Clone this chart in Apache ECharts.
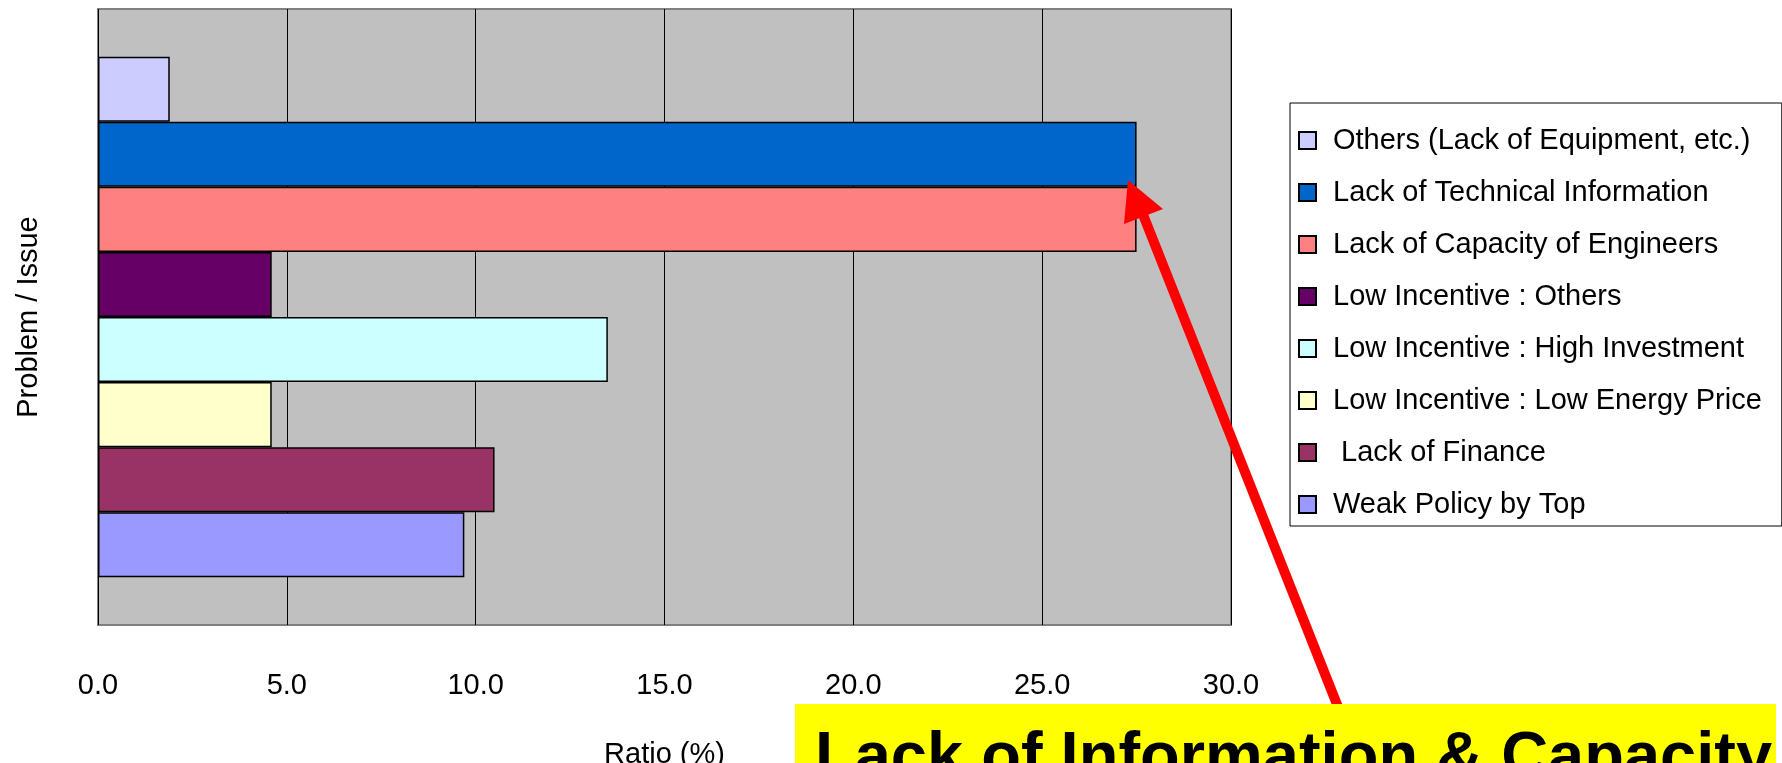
<!DOCTYPE html>
<html>
<head>
<meta charset="utf-8">
<script src="https://cdn.jsdelivr.net/npm/echarts@6/dist/echarts.min.js"></script>
<style>
html, body { margin: 0; padding: 0; background: #fff; }
#chart { width: 1782px; height: 763px; }
</style>
</head>
<body>
<div id="chart"></div>
<script>
// problems / issues, listed top to bottom as in the legend
var issueNames = [
	'Others (Lack of Equipment, etc.)',
	'Lack of Technical Information',
	'Lack of Capacity of Engineers',
	'Low Incentive : Others',
	'Low Incentive : High Investment',
	'Low Incentive : Low Energy Price',
	' Lack of Finance',
	'Weak Policy by Top'
];
// ratio (%)
var issueRatios = [1.9, 27.5, 27.5, 4.6, 13.5, 4.6, 10.5, 9.7];
var issueColors = ['#CCCCFF', '#0066CC', '#FF8080', '#660066', '#CCFFFF', '#FFFFCC', '#993366', '#9999FF'];
var categories = ['Issue'];
var FONT = 'Liberation Sans, Arial, sans-serif';

var chart = echarts.init(document.getElementById('chart'));

var series = issueNames.map(function(name, i) {
	return {
		name: name,
		type: 'bar',
		data: [issueRatios[i]],
		barGap: '0%',
		barCategoryGap: '15.5%',
		itemStyle: {
			color: issueColors[i],
			borderColor: '#000',
			borderWidth: 1.5
		},
		emphasis: { disabled: true }
	};
});

chart.setOption({
	animation: false,
	backgroundColor: '#fff',
	grid: {
		left: 98,
		top: 9,
		right: 551,
		bottom: 138,
		containLabel: false,
		outerBoundsMode: 'none',
		show: true,
		backgroundColor: '#C0C0C0',
		borderColor: '#808080',
		borderWidth: 2
	},
	legend: {
		orient: 'vertical',
		left: 1290,
		top: 103,
		data: issueNames,
		icon: 'rect',
		itemWidth: 17,
		itemHeight: 17,
		itemGap: 23,
		padding: [23, 20, 7, 8],
		backgroundColor: '#fff',
		borderColor: '#000',
		borderWidth: 1,
		borderRadius: 0,
		selectedMode: false,
		textStyle: {
			fontFamily: FONT,
			fontSize: 29,
			color: '#000',
			lineHeight: 28,
			padding: [0, 0, 0, 12]
		}
	},
	xAxis: {
		type: 'value',
		min: 0,
		max: 30,
		interval: 5,
		name: 'Ratio (%)',
		nameLocation: 'middle',
		nameGap: 115,
		nameTextStyle: { fontFamily: FONT, fontSize: 29, color: '#000' },
		axisLine: { show: false },
		axisTick: { show: false },
		axisLabel: {
			margin: 46,
			fontFamily: FONT,
			fontSize: 29,
			color: '#000',
			formatter: function(v) { return v.toFixed(1); }
		},
		splitLine: { show: true, lineStyle: { color: '#000', width: 1 } }
	},
	yAxis: {
		type: 'category',
		data: categories,
		name: 'Problem / Issue',
		nameLocation: 'middle',
		nameRotate: 90,
		nameGap: 55,
		nameTextStyle: { fontFamily: FONT, fontSize: 29, color: '#000' },
		axisLine: { show: false },
		axisTick: { show: false },
		axisLabel: { show: false },
		splitLine: { show: false }
	},
	series: series,
	graphic: [
		{
			type: 'line',
			z: 100,
			shape: { x1: 1340, y1: 712, x2: 1142, y2: 212 },
			style: { stroke: '#FF0000', lineWidth: 10 }
		},
		{
			type: 'polygon',
			z: 100,
			shape: { points: [[1128, 180], [1124, 224], [1163, 209]] },
			style: { fill: '#FF0000' }
		},
		{
			type: 'rect',
			z: 101,
			shape: { x: 795, y: 704, width: 981, height: 70 },
			style: { fill: '#FFFF00' }
		},
		{
			type: 'text',
			z: 102,
			x: 815,
			y: 727,
			style: {
				text: 'Lack of Information & Capacity',
				fontFamily: FONT,
				fontWeight: 'bold',
				fontSize: 65,
				fill: '#000',
				verticalAlign: 'top'
			}
		}
	]
});
</script>
</body>
</html>
